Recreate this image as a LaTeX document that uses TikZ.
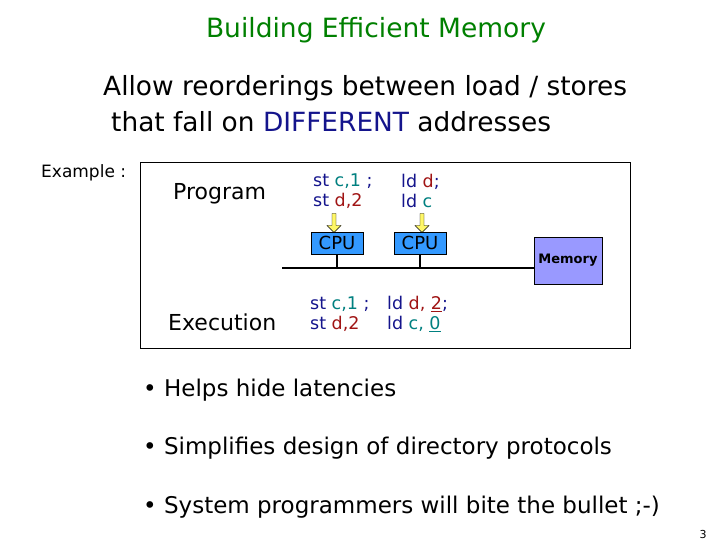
\documentclass[tikz,border=0pt]{standalone}
\usepackage{fontspec}
\setmainfont{DejaVu Sans}
\definecolor{ttl}{RGB}{0,128,0}
\definecolor{nv}{RGB}{20,20,140}
\definecolor{tl}{RGB}{0,128,128}
\definecolor{dr}{RGB}{160,20,20}
\definecolor{cpu}{RGB}{51,153,255}
\definecolor{mem}{RGB}{153,153,255}
\usetikzlibrary{shapes.arrows}
\tikzset{txt/.style={inner sep=0pt,anchor=west},
cpubox/.style={draw,fill=cpu,minimum width=52pt,minimum height=22pt,inner sep=0pt,font=\fontsize{18}{18}\selectfont},
yarr/.style={draw=black,fill=yellow!60,single arrow,single arrow head extend=3pt,single arrow head indent=0pt,shape border rotate=270,minimum height=19pt,minimum width=14pt,inner sep=1pt}}
\begin{document}
\begin{tikzpicture}[x=1pt,y=-1pt]
\useasboundingbox (0,0) rectangle (720,540);
\fill[white] (0,0) rectangle (720,540);
\node[ttl,font=\fontsize{26.5}{28}\selectfont] (title) at (376,30) {Building Efficient Memory};
\node[txt,font=\fontsize{26.4}{28}\selectfont] (l1) at (103,88) {Allow reorderings between load / stores};
\node[txt,font=\fontsize{26.4}{28}\selectfont] (l2) at (111,122) {that fall on \textcolor{nv}{DIFFERENT} addresses};
\node[txt,font=\fontsize{17}{18}\selectfont] (ex) at (41,173) {Example :};
\draw (140,162) rectangle (630,348);
\node[txt,font=\fontsize{22}{24}\selectfont] (prog) at (173,194) {Program};
\node[txt,font=\fontsize{22}{24}\selectfont] (exe) at (168,322) {Execution};
\node[txt,font=\fontsize{17.5}{20}\selectfont,align=left] (p1) at (313,191) {\textcolor{nv}{st} \textcolor{tl}{c,1} \textcolor{nv}{;}\\\textcolor{nv}{st} \textcolor{dr}{d,2}};
\node[txt,font=\fontsize{17.5}{20}\selectfont,align=left] (p2) at (401,191) {\textcolor{nv}{ld} \textcolor{dr}{d}\textcolor{nv}{;}\\\textcolor{nv}{ld} \textcolor{tl}{c}};
\node[yarr] (a1) at (334,222) {};
\node[yarr] (a2) at (422,222) {};
\node[cpubox] (c1) at (337,243) {CPU};
\node[cpubox] (c2) at (420,243) {CPU};
\node[draw,fill=mem,minimum width=68pt,minimum height=47pt,inner sep=0pt,font=\bfseries\fontsize{13}{15}\selectfont] (m) at (568,260.5) {Memory};
\coordinate (bl) at (282,268);
\draw[line width=1.5pt] (bl) -- (bl -| m.west);
\draw[line width=1.5pt] (c1.south) -- (c1.south |- bl);
\draw[line width=1.5pt] (c2.south) -- (c2.south |- bl);
\node[txt,font=\fontsize{17.5}{20}\selectfont,align=left] (e1) at (310,314) {\textcolor{nv}{st} \textcolor{tl}{c,1} \textcolor{nv}{;}\\\textcolor{nv}{st} \textcolor{dr}{d,2}};
\node[txt,font=\fontsize{17.5}{20}\selectfont,align=left] (e2) at (387,314) {\textcolor{nv}{ld} \textcolor{dr}{d, \underline{2}}\textcolor{nv}{;}\\\textcolor{nv}{ld} \textcolor{tl}{c, \underline{0}}};
\node[txt,font=\fontsize{23}{24}\selectfont] (b1) at (143,390) {• Helps hide latencies};
\node[txt,font=\fontsize{23}{24}\selectfont] (b2) at (143,448) {• Simplifies design of directory protocols};
\node[txt,font=\fontsize{23}{24}\selectfont] (b3) at (143,507) {• System programmers will bite the bullet ;-)};
\node[font=\fontsize{11}{12}\selectfont] (pg) at (703,534) {3};
\end{tikzpicture}
\end{document}
